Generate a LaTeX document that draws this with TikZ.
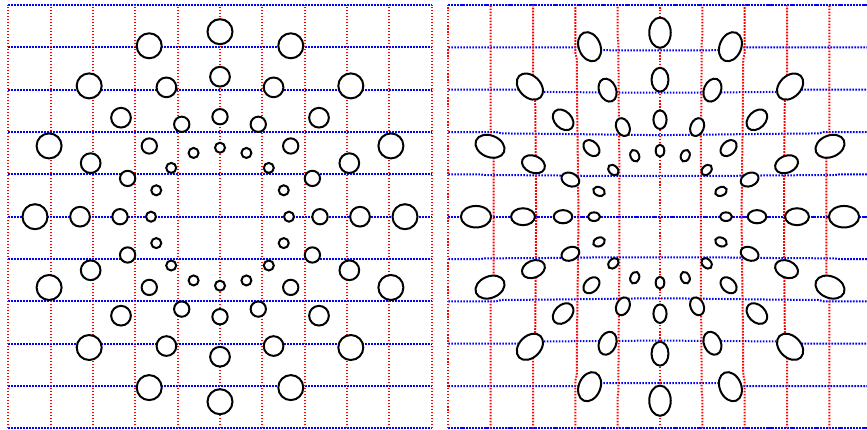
\documentclass[tikz,border=0pt]{standalone}
\usepackage{tikz}

\begin{document}
\begin{tikzpicture}[x=1pt, y=1pt,
    vgrid/.style={red, line width=2pt, dash pattern=on 1.6pt off 1.4pt},
    hgrid/.style={blue, line width=2pt, dash pattern=on 1.6pt off 1.4pt},
    blob/.style={draw=black, fill=white, line width=2pt},
    declare function={pull(\dist)=(\dist<183)*3*min(1/max(\dist,1),1/80);}]
  \useasboundingbox (0,0) rectangle (867,429);

  % left: undeformed grid and rings
  \begin{scope}[shift={(220,212.3)}]
    \foreach \k in {-5,...,5} {
      \draw[hgrid] (-211.7, {42.33*\k}) -- (211.7, {42.33*\k});
    }
    \foreach \k in {-5,...,5} {
      \draw[vgrid] ({42.33*\k}, -211.7) -- ({42.33*\k}, 211.7);
    }
    \foreach \R/\rc in {69/5, 100/7.65, 140/9.85, 185/12.5} {
      \foreach \a in {0,22.5,...,337.5} {
        \draw[blob] (\a:\R) circle [radius=\rc];
      }
    }
  \end{scope}

  % right: warped grid, rings stretched along the radius
  \begin{scope}[shift={(660,212.3)}]
    \clip (-214,-214) rectangle (207,214);
    \foreach \k in {-5,...,5} {
      \draw[hgrid] plot[domain=-211.7:211.7, samples=160, variable=\t]
        ({\t*(1-pull(veclen(\t,42.33*\k)))}, {42.33*\k*(1-pull(veclen(\t,42.33*\k)))});
    }
    \foreach \k in {-5,...,5} {
      \draw[vgrid] plot[domain=-211.7:211.7, samples=160, variable=\t]
        ({42.33*\k*(1-pull(veclen(42.33*\k,\t)))}, {\t*(1-pull(veclen(42.33*\k,\t)))});
    }
    \foreach \R/\rc in {66/5, 97/7.65, 137/9.85, 184/12.5} {
      \foreach \a in {0,22.5,...,337.5} {
        \draw[blob, shift={(\a:\R)}, rotate=\a] (0,0) ellipse [x radius={1.21*\rc}, y radius={0.86*\rc}];
      }
    }
  \end{scope}
\end{tikzpicture}
\end{document}
